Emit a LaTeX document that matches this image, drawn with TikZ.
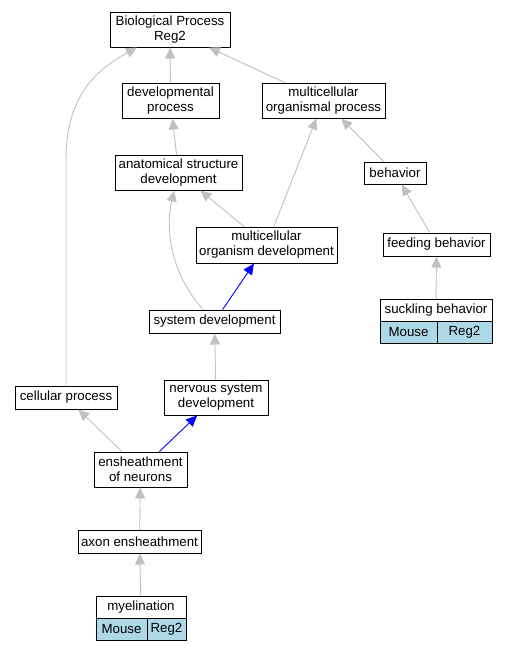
\documentclass[tikz,border=0pt]{standalone}
\usepackage{fontspec}
\setmainfont{Liberation Sans}
\usetikzlibrary{arrows.meta}
\definecolor{edgegrey}{HTML}{C0C0C0}
\definecolor{lightcell}{HTML}{ADD8E6}
\tikzset{
% Two node styles for the terms: plain box and coloured cell below it
term node/.style={draw,line width=1pt,inner sep=1pt,align=center,minimum height=23pt},
cell node/.style={draw,line width=1pt,fill=lightcell,inner sep=1pt,minimum height=22pt},
% Two edge styles: grey and blue is_a links
grey edge/.style={draw=edgegrey,line width=0.9pt,-{Triangle[length=11pt,width=10pt]}},
blue edge/.style={grey edge,draw=blue}
}

\begin{document}
\begin{tikzpicture}[x=1pt,y=-1pt,font=\fontsize{13.3}{15}\selectfont]
      \useasboundingbox (0,0) rectangle (507,651);
      % The terms, top to bottom
      \node(bp)[term node,minimum width=120pt,minimum height=35pt] at (170,29.5) {Biological Process\\Reg2};
      \node(dp)[term node,minimum width=97pt,minimum height=35pt] at (170.5,100.5) {developmental\\process};
      \node(mop)[term node,minimum width=123pt,minimum height=35pt] at (323.5,100.5) {multicellular\\organismal process};
      \node(asd)[term node,minimum width=127pt,minimum height=35pt] at (178.5,172.5) {anatomical structure\\development};
      \node(beh)[term node,minimum width=62pt,minimum height=22pt] at (395,173) {behavior};
      \node(mod)[term node,minimum width=141pt,minimum height=36pt] at (266.5,245) {multicellular\\organism development};
      \node(fb)[term node,minimum width=107pt] at (436.5,244.5) {feeding behavior};
      \node(sd)[term node,minimum width=131pt] at (214.5,321.5) {system development};
      \node(cp)[term node,minimum width=102pt] at (66,397.5) {cellular process};
      \node(nsd)[term node,minimum width=104pt,minimum height=35pt] at (216,397.5) {nervous system\\development};
      \node(ens)[term node,minimum width=93pt,minimum height=35pt] at (140.5,469.5) {ensheathment\\of neurons};
      \node(ax)[term node,minimum width=123pt] at (139.5,541.5) {axon ensheathment};
      % Annotated terms with their cells
      \node(sb)[term node,minimum width=112pt,minimum height=22pt] at (436,310) {suckling behavior};
      \node(sb1)[cell node,minimum width=57pt] at (408.5,332) {Mouse};
      \node(sb2)[cell node,minimum width=55pt] at (464.5,332) {Reg2};
      \node(my)[term node,minimum width=90pt,minimum height=22pt] at (141,607) {myelination};
      \node(my1)[cell node,minimum width=51pt] at (121.5,629) {Mouse};
      \node(my2)[cell node,minimum width=39pt] at (166.5,629) {Reg2};
      % is_a links
      \draw[grey edge] (dp) -- (bp);
      \draw[grey edge] (mop) -- (bp);
      \draw[grey edge] (cp.north) -- (66,160) .. controls (66,100) and (92,72) .. (bp);
      \draw[grey edge] (asd) -- (dp);
      \draw[grey edge] (mod) -- (asd);
      \draw[grey edge] (mod) -- (mop);
      \draw[grey edge] (beh) -- (mop);
      \draw[grey edge] ([xshift=-11.5pt]sd.north) .. controls (168,270) and (166,225) .. (asd);
      \draw[blue edge] (sd) -- (mod);
      \draw[grey edge] (fb) -- (beh);
      \draw[grey edge] (sb) -- (fb);
      \draw[grey edge] (nsd) -- (sd);
      \draw[grey edge] (ens) -- (cp);
      \draw[blue edge] (ens) -- (nsd);
      \draw[grey edge] (ax) -- (ens);
      \draw[grey edge] (my) -- (ax);
    \end{tikzpicture}
\end{document}
